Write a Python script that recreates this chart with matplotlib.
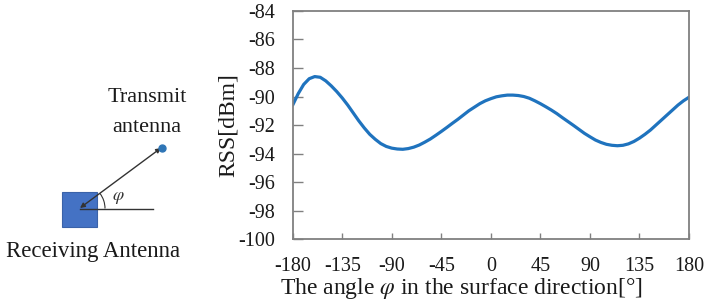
import matplotlib
matplotlib.use("Agg")
import matplotlib.pyplot as plt
from matplotlib.patches import Rectangle, Arc, FancyArrowPatch

angle = [-180, -175, -170, -165, -160, -155, -150, -145, -140, -135, -130, -125,
         -120, -115, -110, -105, -100, -95, -90, -85, -80, -75, -70, -65,
         -60, -55, -50, -45, -40, -35, -30, -25, -20, -15, -10, -5,
         0, 5, 10, 15, 20, 25, 30, 35, 40, 45, 50, 55,
         60, 65, 70, 75, 80, 85, 90, 95, 100, 105, 110, 115,
         120, 125, 130, 135, 140, 145, 150, 155, 160, 165, 170, 175, 180]
rss = [-90.6, -89.8, -89.15, -88.75, -88.6, -88.65, -88.9, -89.25, -89.65, -90.1, -90.6, -91.15,
       -91.7, -92.2, -92.65, -93.0, -93.3, -93.5, -93.62, -93.68, -93.7, -93.65, -93.55, -93.4,
       -93.2, -92.98, -92.72, -92.45, -92.17, -91.88, -91.6, -91.3, -91.0, -90.75, -90.5, -90.3,
       -90.15, -90.02, -89.95, -89.9, -89.9, -89.93, -90.0, -90.12, -90.3, -90.5, -90.72, -90.95,
       -91.2, -91.48, -91.75, -92.02, -92.3, -92.58, -92.82, -93.05, -93.22, -93.35, -93.42, -93.45,
       -93.42, -93.32, -93.15, -92.92, -92.65, -92.35, -92.0, -91.65, -91.3, -90.95, -90.6, -90.3, -90.05]
xticks = [-180, -135, -90, -45, 0, 45, 90, 135, 180]
yticks = [-100, -98, -96, -94, -92, -90, -88, -86, -84]

plt.rcParams['font.family'] = ['Liberation Serif', 'DejaVu Serif']
plt.rcParams['mathtext.fontset'] = 'stix'
plt.rcParams['axes.unicode_minus'] = False

txt = "#1a1a1a"
fig = plt.figure(figsize=(7.07, 3.05), dpi=100)

# 왼쪽 안테나 그림 (픽셀 좌표)
d = fig.add_axes([0, 0, 1, 1])
d.set_xlim(0, 707)
d.set_ylim(305, 0)
d.axis("off")
d.add_patch(Rectangle((62, 192), 35, 35, facecolor="#4472C4", edgecolor="#3a62a8", lw=0.8))
d.plot([80, 153], [208.5, 208.5], color="#333333", lw=1.0)
d.add_patch(FancyArrowPatch((161, 148), (80, 208), arrowstyle="<|-|>", mutation_scale=7,
                            color="#333333", lw=1.0, shrinkA=0, shrinkB=0))
d.plot([162], [148], "o", color="#2E75B6", ms=5)
d.add_patch(Arc((80, 208.5), 50, 50, theta1=-37, theta2=0, color="#333333", lw=0.8))
d.text(118, 198, r"$\varphi$", fontsize=13, ha="center", va="center", color="#333333")
d.text(147, 98, "Transmit", fontsize=16, ha="center", va="center", color=txt)
d.text(147, 127, "antenna", fontsize=16, ha="center", va="center", color=txt)
d.text(93, 252, "Receiving Antenna", fontsize=16.5, ha="center", va="center", color=txt)

# 오른쪽 그래프
ax = fig.add_axes([0.414, 0.216, 0.5605, 0.748])
ax.plot(angle, rss, color="#1F73BE", lw=2.3, solid_capstyle="round")
ax.set_xlim(-180, 180)
ax.set_ylim(-100, -84)
ax.set_xticks(xticks)
ax.set_yticks(yticks)
for s in ax.spines.values():
    s.set_color("#808080")
    s.set_linewidth(1.3)
ax.tick_params(direction="in", color="#808080", width=1.0,
               labelsize=14.5, labelcolor=txt)
ax.tick_params(axis="y", length=7, pad=12.5)
ax.tick_params(axis="x", length=4, pad=13)
ax.set_ylabel("RSS[dBm]", fontsize=17, color=txt, labelpad=0)
ax.set_xlabel(r"The angle $\varphi$ in the surface direction[°]", fontsize=17,
              color=txt, labelpad=1)
ax.xaxis.set_label_coords(0.4265, -0.16, transform=ax.transAxes)
ax.xaxis.label.set_va("top")

fig.savefig("out.png", dpi=100)
